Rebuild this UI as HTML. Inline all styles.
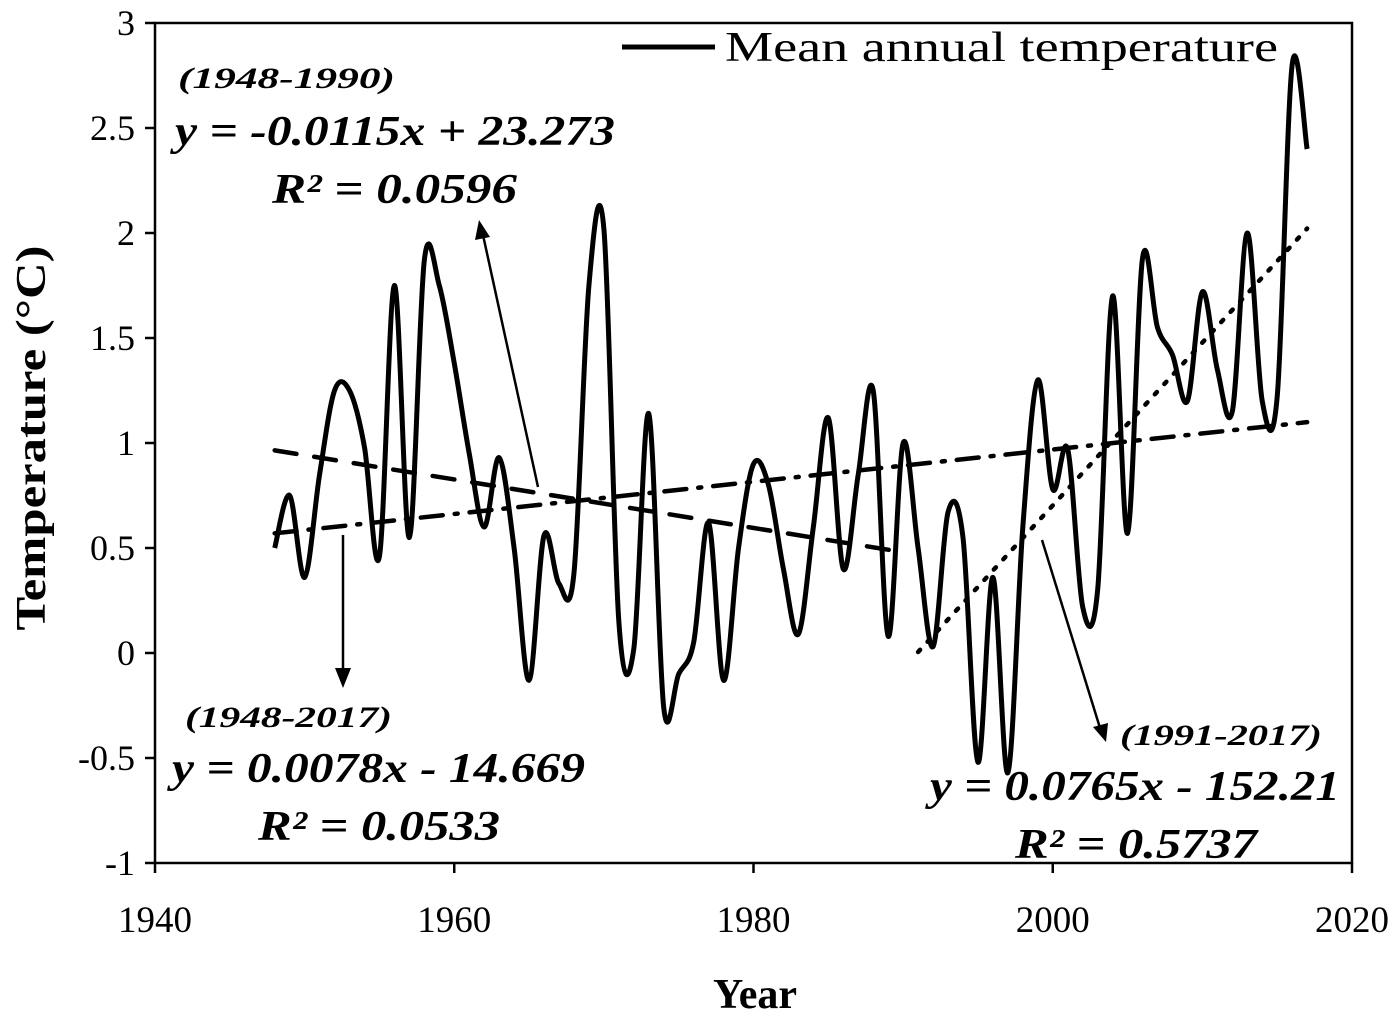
<!DOCTYPE html>
<html><head><meta charset="utf-8"><style>
html,body{margin:0;padding:0;background:#fff}
svg{display:block}
text{font-family:"Liberation Serif",serif;fill:#000}
.ann{font-weight:bold;font-style:italic}
</style></head><body>
<svg id="chart" width="1400" height="1013" viewBox="0 0 1400 1013" xmlns="http://www.w3.org/2000/svg">
<g id="axes"></g>
<g id="trends"></g>
<path id="series" fill="none" stroke="#000" stroke-width="5" stroke-linejoin="round"/>
<g>
<line x1="622" y1="47" x2="715" y2="47" stroke="#000" stroke-width="5"/>
<text x="725" y="61" font-size="42" textLength="553" lengthAdjust="spacingAndGlyphs">Mean annual temperature</text>
</g>
<g>
<text class="ann" x="178" y="88" font-size="30" textLength="217" lengthAdjust="spacingAndGlyphs">(1948-1990)</text>
<text class="ann" x="175" y="145" font-size="42" textLength="440" lengthAdjust="spacingAndGlyphs">y = -0.0115x + 23.273</text>
<text class="ann" x="272" y="203" font-size="42" textLength="245" lengthAdjust="spacingAndGlyphs">R² = 0.0596</text>
<text class="ann" x="185" y="727" font-size="30" textLength="207" lengthAdjust="spacingAndGlyphs">(1948-2017)</text>
<text class="ann" x="172" y="782" font-size="42" textLength="413" lengthAdjust="spacingAndGlyphs">y = 0.0078x - 14.669</text>
<text class="ann" x="258" y="840" font-size="42" textLength="242" lengthAdjust="spacingAndGlyphs">R² = 0.0533</text>
<text class="ann" x="1120" y="745" font-size="30" textLength="202" lengthAdjust="spacingAndGlyphs">(1991-2017)</text>
<text class="ann" x="930" y="800" font-size="42" textLength="410" lengthAdjust="spacingAndGlyphs">y = 0.0765x - 152.21</text>
<text class="ann" x="1015" y="858" font-size="42" textLength="242" lengthAdjust="spacingAndGlyphs">R² = 0.5737</text>
<line x1="538" y1="487" x2="483" y2="235" stroke="#000" stroke-width="2.5"/>
<polygon points="479,220 475,240 490,237" fill="#000"/>
<line x1="343" y1="535" x2="343" y2="672" stroke="#000" stroke-width="2.5"/>
<polygon points="335,668 351,668 343,688" fill="#000"/>
<line x1="1042" y1="540" x2="1100" y2="728" stroke="#000" stroke-width="2.5"/>
<polygon points="1093,727 1108,723 1106,742" fill="#000"/>
</g>
<text transform="translate(45,438) rotate(-90)" text-anchor="middle" font-size="42" font-weight="bold" textLength="385" lengthAdjust="spacingAndGlyphs">Temperature (°C)</text>
<text x="755" y="1008" text-anchor="middle" font-size="42" font-weight="bold">Year</text>
</svg>
<script>
const years=[1948,1949,1950,1951,1952,1953,1954,1955,1956,1957,1958,1959,1960,1961,1962,1963,1964,1965,1966,1967,1968,1969,1970,1971,1972,1973,1974,1975,1976,1977,1978,1979,1980,1981,1982,1983,1984,1985,1986,1987,1988,1989,1990,1991,1992,1993,1994,1995,1996,1997,1998,1999,2000,2001,2002,2003,2004,2005,2006,2007,2008,2009,2010,2011,2012,2013,2014,2015,2016,2017];
const temps=[0.5,0.75,0.36,0.85,1.25,1.25,0.98,0.46,1.75,0.55,1.87,1.75,1.38,0.95,0.6,0.93,0.5,-0.13,0.56,0.33,0.38,1.75,2.02,0.15,0.02,1.14,-0.26,-0.1,0.05,0.62,-0.13,0.5,0.9,0.8,0.4,0.09,0.6,1.12,0.4,0.85,1.25,0.08,1.0,0.5,0.03,0.67,0.55,-0.52,0.36,-0.57,0.6,1.3,0.78,0.97,0.22,0.3,1.7,0.57,1.88,1.55,1.42,1.2,1.72,1.35,1.15,2.0,1.2,1.22,2.8,2.4];
const xTicks=[1940,1960,1980,2000,2020];
const yTicks=[-1,-0.5,0,0.5,1,1.5,2,2.5,3];
const yTickLabels=["-1","-0.5","0","0.5","1","1.5","2","2.5","3"];
const trendPeriods=[[1948,1990],[1948,2017],[1991,2017]];
const trendDash=["22,18","22,12,3,12","3,11"];
const trendNames=["trend-1948-1990","trend-1948-2017","trend-1991-2017"];

const L=155,R=1352,T=23,B=863;
const X=v=>L+(v-1940)/80*(R-L);
const Y=v=>B-(v+1)/4*(B-T);
const NS="http://www.w3.org/2000/svg";
function mk(tag,attrs,parent){const e=document.createElementNS(NS,tag);for(const k in attrs)e.setAttribute(k,attrs[k]);parent.appendChild(e);return e;}
const ax=document.getElementById('axes');
const frame=mk('rect',{x:L,y:T,width:R-L,height:B-T,fill:'none',stroke:'#000','stroke-width':2.5},ax);


yTicks.forEach((v,i)=>{
  const t=mk('line',{x1:L-10,x2:L,y1:Y(v),y2:Y(v),stroke:'#000','stroke-width':2.5},ax);
  
  
  const lb=mk('text',{x:L-20,y:Y(v)+12,'text-anchor':'end','font-size':36},ax);
  lb.textContent=yTickLabels[i];
  
  
});
xTicks.forEach(v=>{
  const t=mk('line',{x1:X(v),x2:X(v),y1:B,y2:B+10,stroke:'#000','stroke-width':2.5},ax);
  
  
  const lb=mk('text',{x:X(v),y:932,'text-anchor':'middle','font-size':37},ax);
  lb.textContent=String(v);
  
  
});
const pts=years.map((y,i)=>[X(y),Y(temps[i])]);
let d='M'+pts[0][0]+','+pts[0][1];
for(let i=0;i<pts.length-1;i++){
  const p0=pts[Math.max(0,i-1)],p1=pts[i],p2=pts[i+1],p3=pts[Math.min(pts.length-1,i+2)];
  const c1=[p1[0]+(p2[0]-p0[0])/6,p1[1]+(p2[1]-p0[1])/6];
  const c2=[p2[0]-(p3[0]-p1[0])/6,p2[1]-(p3[1]-p1[1])/6];
  d+=' C'+c1[0]+','+c1[1]+' '+c2[0]+','+c2[1]+' '+p2[0]+','+p2[1];
}
document.getElementById('series').setAttribute('d',d);
const tg=document.getElementById('trends');
trendPeriods.forEach((p,k)=>{
  const xs=[],vs=[];
  years.forEach((y,i)=>{if(y>=p[0]&&y<=p[1]){xs.push(y);vs.push(temps[i]);}});
  const n=xs.length,mx=xs.reduce((a,b)=>a+b)/n,my=vs.reduce((a,b)=>a+b)/n;
  let sxy=0,sxx=0;xs.forEach((x,i)=>{sxy+=(x-mx)*(vs[i]-my);sxx+=(x-mx)*(x-mx);});
  const m=sxy/sxx,b=my-m*mx;
  const ln=mk('line',{x1:X(p[0]),y1:Y(m*p[0]+b),x2:X(p[1]),y2:Y(m*p[1]+b),stroke:'#000','stroke-width':4.5,'stroke-dasharray':trendDash[k],'stroke-linecap':'round'},tg);
  
  
});
</script>
</body></html>
